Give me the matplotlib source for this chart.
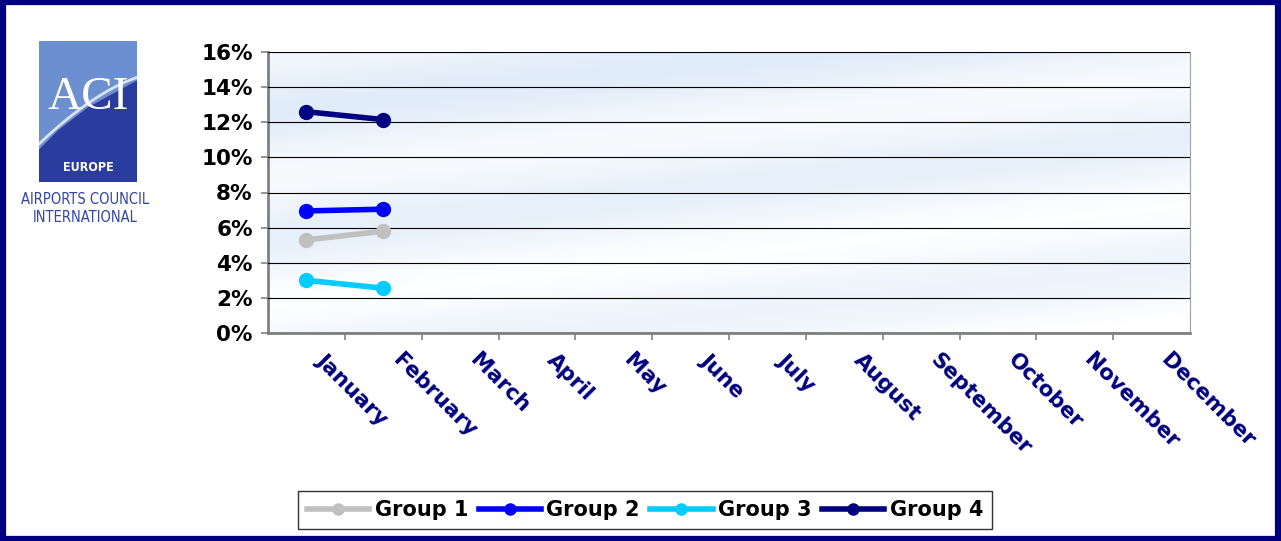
import numpy as np
import matplotlib
matplotlib.use("Agg")
import matplotlib.pyplot as plt
import matplotlib.transforms as mtransforms
from matplotlib.patches import Rectangle, Polygon
from matplotlib.lines import Line2D

months = ['January', 'February', 'March', 'April', 'May', 'June', 'July',
          'August', 'September', 'October', 'November', 'December']
group_names = ['Group 1', 'Group 2', 'Group 3', 'Group 4']
group_colors = ['#c0c0c0', '#0000ff', '#00ccff', '#000080']
group1 = [5.3, 5.8]
group2 = [6.95, 7.05]
group3 = [3.0, 2.55]
group4 = [12.6, 12.15]
yticks = [0, 2, 4, 6, 8, 10, 12, 14, 16]

navy = '#000080'
W, H = 1281, 541

fig = plt.figure(figsize=(12.81, 5.41), dpi=100)
fig.patch.set_facecolor('white')

# navy frame around the whole figure
fig.patches.append(Rectangle((0.002, 0.004), 0.996, 0.992, transform=fig.transFigure,
                             fill=False, edgecolor=navy, linewidth=4.5))

ax = fig.add_axes([268 / W, 1 - 333 / H, 922 / W, 281 / H])

# soft blue background with white streaks
ny, nx = 200, 600
yy, xx = np.mgrid[0:1:ny*1j, 0:1:nx*1j]
d = yy - 0.35 * xx
streak = 0.5 + 0.5 * np.sin(d * 14.0)
fade = np.clip(1.0 - 0.9 * (1 - yy) - 0.3 * xx, 0, 1)
w = np.clip(0.6 * streak + 0.45 * (1 - fade), 0, 1)
base = np.array([0.87, 0.92, 0.975])
img = base[None, None, :] * (1 - w[..., None]) + np.ones(3)[None, None, :] * w[..., None]
ax.imshow(img, extent=(-0.5, 11.5, 0, 16), aspect='auto', origin='lower', zorder=0)

for vals, name, col in zip([group1, group2, group3, group4], group_names, group_colors):
    ax.plot(range(len(vals)), vals, color=col, linewidth=4, marker='o',
            markersize=10, solid_capstyle='round', label=name, zorder=3)

ax.set_xlim(-0.5, 11.5)
ax.set_ylim(0, 16)
ax.set_yticks(yticks)
ax.set_yticklabels([f'{v}%' for v in yticks], fontsize=15.5, fontweight='bold')
ax.grid(axis='y', color='black', linewidth=0.8, zorder=1)
ax.set_axisbelow(False)

# month labels, rotated, hanging from the category centres
ax.set_xticks(range(12))
ax.set_xticklabels([])
ax.tick_params(axis='x', which='major', length=0)
shift = mtransforms.ScaledTranslation(20 / 100, -17 / 100, fig.dpi_scale_trans)
for i, m in enumerate(months):
    ax.text(i, 0, m, transform=ax.get_xaxis_transform() + shift, rotation=-45,
            rotation_mode='anchor', ha='left', va='top', fontsize=15.5,
            fontweight='bold', color=navy)
ax.set_xticks(np.arange(0.5, 11.5, 1), minor=True)
ax.tick_params(axis='x', which='minor', length=5, color='#808080', width=1.2)
ax.tick_params(axis='y', length=5, color='#808080', width=1.2, pad=6)

for side in ['top', 'right']:
    ax.spines[side].set_color('#a0a0a0')
    ax.spines[side].set_linewidth(0.8)
for side in ['left', 'bottom']:
    ax.spines[side].set_color('#808080')
    ax.spines[side].set_linewidth(2)

handles = [Line2D([0], [0], color=c, linewidth=4, marker='o', markersize=8)
           for c in group_colors]
leg = fig.legend(handles, group_names, loc='center', bbox_to_anchor=(645 / W, 1 - 510 / H),
                 ncol=4, frameon=True, fancybox=False, edgecolor='black',
                 prop={'size': 15, 'weight': 'bold'}, handlelength=3.0,
                 handletextpad=0.25, columnspacing=0.5, borderpad=0.45)
leg.get_frame().set_linewidth(1.0)

# ACI logo
lx0, ly0 = 39 / W, 1 - 182 / H
lw, lh = 98 / W, 141 / H
fig.patches.append(Rectangle((lx0, ly0), lw, lh, transform=fig.transFigure,
                             facecolor='#2a3c9e', edgecolor='none'))
fig.patches.append(Polygon([(lx0, ly0 + lh), (lx0 + lw, ly0 + lh), (lx0 + lw, ly0 + lh * 0.72),
                            (lx0 + lw * 0.5, ly0 + lh * 0.53), (lx0 + lw * 0.2, ly0 + lh * 0.37),
                            (lx0, ly0 + lh * 0.23)],
                           closed=True, transform=fig.transFigure,
                           facecolor='#6b8fcf', edgecolor='none'))
fig.text(lx0 + lw / 2, ly0 + lh * 0.6, 'ACI', ha='center', va='center', color='white',
         fontsize=34, family='Liberation Serif')
sx = np.linspace(20, 158, 40)
t = (sx - 20) / 138
sy = 163 - 90 * (1 - (1 - t) ** 1.6)
fig.add_artist(Line2D(sx / W, 1 - sy / H, transform=fig.transFigure, color='white',
                      linewidth=2, alpha=0.75))
fig.text(lx0 + lw / 2, ly0 + lh * 0.1, 'EUROPE', ha='center', va='center', color='white',
         fontsize=9, fontweight='bold', fontstretch='condensed', family='DejaVu Sans')
fig.text(85 / W, 1 - 199 / H, 'AIRPORTS COUNCIL', ha='center', va='center',
         color='#3344aa', fontsize=10.5, fontstretch='condensed', family='DejaVu Sans')
fig.text(85 / W, 1 - 218 / H, 'INTERNATIONAL', ha='center', va='center',
         color='#3344aa', fontsize=10.5, fontstretch='condensed', family='DejaVu Sans')

fig.savefig('out.png', dpi=100)
